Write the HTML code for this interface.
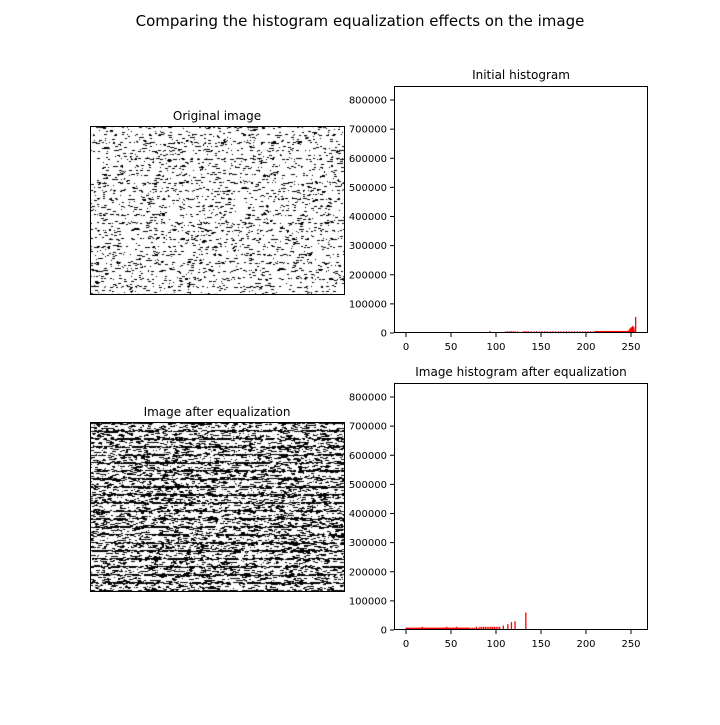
<!DOCTYPE html>
<html><head><meta charset="utf-8"><style>
body{margin:0;background:#fff;width:720px;height:720px;overflow:hidden;font-family:"Liberation Sans","DejaVu Sans",sans-serif}
</style></head><body>
<svg id="fig" width="720" height="720" xmlns="http://www.w3.org/2000/svg" font-family="DejaVu Sans, Liberation Sans, sans-serif">
<text x="360" y="26" text-anchor="middle" font-size="15">Comparing the histogram equalization effects on the image</text>
<text x="217" y="120" text-anchor="middle" font-size="12">Original image</text>
<text x="217" y="416" text-anchor="middle" font-size="12">Image after equalization</text>
<foreignObject x="90" y="126" width="255" height="169"><canvas xmlns="http://www.w3.org/1999/xhtml" id="img1" width="255" height="169"></canvas></foreignObject>
<foreignObject x="90" y="422" width="255" height="170"><canvas xmlns="http://www.w3.org/1999/xhtml" id="img2" width="255" height="170"></canvas></foreignObject>
<rect x="90.5" y="126.5" width="254" height="168" fill="none" stroke="#000"/>
<rect x="90.5" y="422.5" width="254" height="169" fill="none" stroke="#000"/>
<g id="h1"></g>
<g id="h2"></g>
</svg>
<script>
// Initial histogram data (pixel value -> count)
const initBins = [93,111,113,115,117,119,121,124,130,132,134,136,139,142,145,148,151,154,157,160,163,166,169,172,175,178,181,184,187,190,193,196,199,202,205,208];
const initCounts = [7000,6000,6000,6000,6000,6000,6000,6000,6000,6000,6000,6000,6000,6000,6000,6000,6000,6000,6000,6000,6000,6000,6000,6000,6000,6000,6000,6000,6000,6000,6000,6000,6000,6000,6000,6000];
const initTailBins = [210,211,212,213,214,215,216,217,218,219,220,221,222,223,224,225,226,227,228,229,230,231,232,233,234,235,236,237,238,239,240,241,242,243,244,245,246,247,248,249,250,251,252,253,254,255];
const initTailCounts = [7000,7000,7000,7000,7000,7000,7000,7000,7000,7000,7000,7000,7000,7000,7000,7000,7000,7000,7000,7000,7000,7000,7000,7000,7000,7000,7000,7000,7000,7000,7000,7000,7000,7000,7000,7000,7000,8000,12000,16000,19000,21000,25000,20000,8000,55000];
// Equalized histogram data
const eqBins = [0,1,2,3,4,5,6,7,8,9,10,11,12,13,14,15,16,17,18,19,20,21,22,23,24,25,26,27,28,29,30,31,32,33,34,35,36,37,38,39,40,41,42,43,44,45,46,47,48,49,50,51,52,53,54,55,56,57,58,59,60,61,62,63,64,65,66,67,68,69,70,72,74,76,78,80,82,84,86,88,90,92,94,96,98,100,102,104,108,113,117,121,133];
const eqCounts = [8000,8000,8000,8000,8000,8000,8000,8000,8000,8000,8000,8000,8000,8000,8000,8000,8000,8000,11000,8000,8000,8000,8000,8000,8000,8000,8000,8000,8000,8000,8000,8000,8000,8000,8000,8000,8000,8000,8000,8000,8000,8000,8000,8000,8000,11000,8000,8000,8000,8000,8000,8000,8000,8000,8000,8000,11000,8000,8000,8000,8000,8000,8000,8000,8000,8000,8000,8000,8000,8000,8000,8000,8000,8000,11000,8000,11000,11000,11000,11000,11000,11000,11000,11000,11000,11000,11000,11000,15000,20000,27000,30000,60000];
const xTicks = [0,50,100,150,200,250];
const yTicks = [0,100000,200000,300000,400000,500000,600000,700000,800000];
const titles = ["Initial histogram","Image histogram after equalization"];

const NS="http://www.w3.org/2000/svg";
function mk(p,t,a){const e=document.createElementNS(NS,t);for(const k in a)e.setAttribute(k,a[k]);p.appendChild(e);return e;}
function drawHist(g,top,title,sets){
  const L=394,R=648,T=top,B=top+247;
  const xs=v=>406+v*0.9;
  const ys=v=>B-v*(233/800000);
  const t=mk(g,'text',{x:(L+R)/2,y:T-7,'text-anchor':'middle','font-size':12});
  t.textContent=title;
  
  
  sets.forEach(([bins,counts])=>{
    bins.forEach((b,i)=>{
      const r=mk(g,'rect',{x:xs(b)-0.5,y:ys(counts[i]),width:1.3,height:B-ys(counts[i]),fill:'#ff0000'});
      
      
    });
  });
  const f=mk(g,'rect',{x:L+0.5,y:T+0.5,width:R-L-1,height:B-T-1,fill:'none',stroke:'#000'});
  
  
  xTicks.forEach(v=>{
    mk(g,'line',{x1:xs(v),x2:xs(v),y1:B,y2:B+4,stroke:'#000'});
    const tx=mk(g,'text',{x:xs(v),y:B+17,'text-anchor':'middle','font-size':10});
    tx.textContent=v;
    
    
  });
  yTicks.forEach(v=>{
    mk(g,'line',{x1:L,x2:L-4,y1:ys(v),y2:ys(v),stroke:'#000'});
    const tx=mk(g,'text',{x:L-7,y:ys(v)+3.5,'text-anchor':'end','font-size':10});
    tx.textContent=v;
    
    
  });
}
drawHist(document.getElementById('h1'),86,titles[0],[[initBins,initCounts],[initTailBins,initTailCounts]]);
drawHist(document.getElementById('h2'),383,titles[1],[[eqBins,eqCounts]]);

// Texture images
function prng(s){return()=>{s=(s*1103515245+12345)&0x7fffffff;return s/0x7fffffff;}}
function tex(id,dens,seed,maxLen){
  const c=document.getElementById(id),x=c.getContext('2d'),r=prng(seed);
  x.fillStyle='#fff';x.fillRect(0,0,c.width,c.height);x.fillStyle='#000';
  for(let y=0;y<c.height;y++){
    const rowFac=(y%8<2)?1.8:0.6;
    for(let i=0;i<c.width;){
      const len=1+Math.floor(r()*maxLen);
      if(r()<dens*rowFac)x.fillRect(i,y,len,1);
      i+=len;
    }
  }
}
tex('img1',0.12,7,3);
tex('img2',0.42,11,4);
</script>
</body></html>
